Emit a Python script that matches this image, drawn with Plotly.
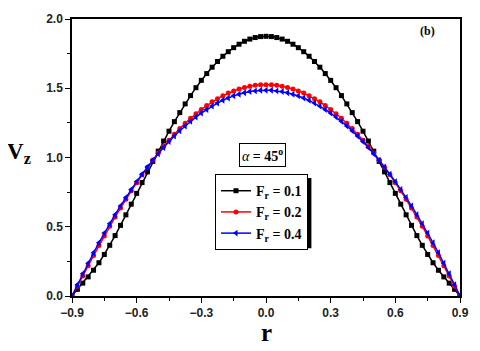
import numpy as np
import plotly.graph_objects as go

# radial positions
r = np.linspace(-0.9, 0.9, 73)

# axial velocity, one list per F_r
vz_01 = [0.0, 0.048, 0.093, 0.138, 0.186, 0.240, 0.300, 0.366, 0.436, 0.510, 0.586, 0.663,
         0.741, 0.819, 0.896, 0.972, 1.046, 1.119, 1.190, 1.259, 1.324, 1.387, 1.447, 1.504,
         1.557, 1.606, 1.652, 1.693, 1.731, 1.764, 1.793, 1.818, 1.839, 1.855, 1.866, 1.873,
         1.875,
         1.873, 1.866, 1.855, 1.839, 1.818, 1.793, 1.764, 1.731, 1.693, 1.652, 1.606, 1.557,
         1.504, 1.447, 1.387, 1.324, 1.259, 1.190, 1.119, 1.046, 0.972, 0.896, 0.819, 0.741,
         0.663, 0.586, 0.510, 0.436, 0.366, 0.300, 0.240, 0.186, 0.138, 0.093, 0.048, 0.0]
vz_02 = [0.0, 0.070, 0.144, 0.218, 0.292, 0.364, 0.434, 0.503, 0.570, 0.635, 0.698, 0.760,
         0.818, 0.875, 0.930, 0.982, 1.032, 1.080, 1.125, 1.168, 1.209, 1.247, 1.283, 1.316,
         1.347, 1.375, 1.402, 1.425, 1.446, 1.465, 1.481, 1.495, 1.506, 1.515, 1.521, 1.525,
         1.526,
         1.525, 1.521, 1.515, 1.506, 1.495, 1.481, 1.465, 1.446, 1.425, 1.402, 1.375, 1.347,
         1.316, 1.283, 1.247, 1.209, 1.168, 1.125, 1.080, 1.032, 0.982, 0.930, 0.875, 0.818,
         0.760, 0.698, 0.635, 0.570, 0.503, 0.434, 0.364, 0.292, 0.218, 0.144, 0.070, 0.0]
vz_04 = [0.0, 0.081, 0.161, 0.237, 0.312, 0.384, 0.454, 0.522, 0.587, 0.650, 0.711, 0.769,
         0.826, 0.879, 0.931, 0.980, 1.027, 1.072, 1.115, 1.155, 1.193, 1.228, 1.261, 1.292,
         1.321, 1.347, 1.371, 1.393, 1.413, 1.430, 1.445, 1.457, 1.468, 1.476, 1.481, 1.485,
         1.486,
         1.485, 1.481, 1.476, 1.468, 1.457, 1.445, 1.430, 1.413, 1.393, 1.371, 1.347, 1.321,
         1.292, 1.261, 1.228, 1.193, 1.155, 1.115, 1.072, 1.027, 0.980, 0.931, 0.879, 0.826,
         0.769, 0.711, 0.650, 0.587, 0.522, 0.454, 0.384, 0.312, 0.237, 0.161, 0.081, 0.0]

x_ticks = [-0.9, -0.6, -0.3, 0.0, 0.3, 0.6, 0.9]
y_ticks = [0.0, 0.5, 1.0, 1.5, 2.0]

serif = "Liberation Serif"
sans = "Liberation Sans"

fig = go.Figure()
series = [
    (vz_01, "black", "square", 5, "<b>F</b><sub><b>r</b></sub><b> = 0.1</b>"),
    (vz_02, "red", "circle", 5, "<b>F</b><sub><b>r</b></sub><b> = 0.2</b>"),
    (vz_04, "blue", "triangle-left", 6, "<b>F</b><sub><b>r</b></sub><b> = 0.4</b>"),
]
for vals, col, sym, sz, name in series:
    fig.add_trace(go.Scatter(
        x=r, y=vals, mode="lines+markers", name=name,
        line=dict(color=col, width=1.5),
        marker=dict(symbol=sym, size=sz, color=col),
    ))

axis_common = dict(
    showline=True, linecolor="black", linewidth=1.5, mirror=True,
    ticks="outside", ticklen=5, tickwidth=1.2, tickcolor="black",
    showgrid=False, zeroline=False, ticklabeloverflow="allow",
    tickfont=dict(family=sans, size=12, color="#222", weight="bold"),
)
fig.update_xaxes(range=[-0.9, 0.9], tickvals=x_ticks, tickformat=".1f",
                 minor=dict(ticks="outside", ticklen=3, dtick=0.15, tickcolor="black"),
                 **axis_common)
fig.update_yaxes(range=[0, 2.0], tickvals=y_ticks, tickformat=".1f",
                 minor=dict(ticks="outside", ticklen=3, dtick=0.25, tickcolor="black"),
                 **axis_common)

# legend shadow
fig.add_shape(type="rect", xref="paper", yref="paper",
              x0=0.379, x1=0.617, y0=0.172, y1=0.426,
              fillcolor="black", line=dict(width=0), layer="above")

# page has an 8px body margin, so the figure is a bit smaller than the window
fig.update_layout(
    width=472, height=343,
    margin=dict(l=64, r=20, t=4, b=55),
    plot_bgcolor="white", paper_bgcolor="white",
    font=dict(family=serif, color="black"),
    legend=dict(x=0.3686, y=0.44, xanchor="left", yanchor="top",
                bgcolor="white", bordercolor="black", borderwidth=1,
                font=dict(family=serif, size=14, color="black"),
                itemwidth=30, tracegroupgap=0),
    annotations=[
        dict(text="<b>V</b><sub><b>z</b></sub>", xref="paper", yref="paper",
             x=-0.1, y=0.515, xanchor="right", showarrow=False, font=dict(family=serif, size=23)),
        dict(text="<b>r</b>", xref="paper", yref="paper",
             x=0.5, y=-0.13, yanchor="middle", showarrow=False, font=dict(family=serif, size=25)),
        dict(text="<b>(b)</b>", xref="paper", yref="paper",
             x=0.94, y=0.955, yanchor="middle", showarrow=False, font=dict(family=serif, size=12)),
        dict(text="<i>α</i><b> = 45</b><sup><b>o</b></sup>", xref="paper", yref="paper",
             x=0.49, y=0.51, showarrow=False, bgcolor="white",
             bordercolor="black", borderwidth=1, borderpad=2,
             font=dict(family=serif, size=14)),
    ],
)

fig.write_html("out.html")
